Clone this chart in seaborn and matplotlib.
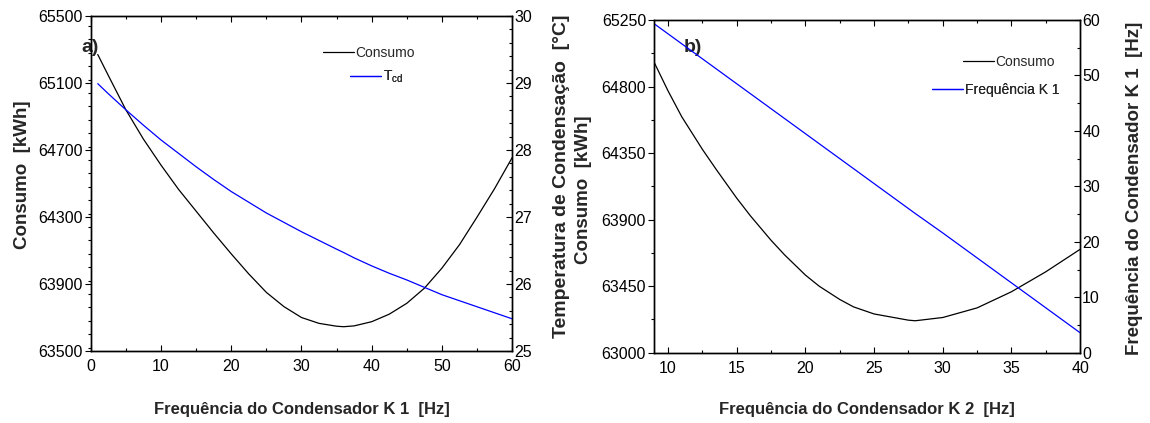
import matplotlib
matplotlib.use("Agg")
import matplotlib.pyplot as plt
from matplotlib.ticker import MultipleLocator
import numpy as np
import seaborn as sns

# panel a) : frequency of condenser K1
freq_k1 = [1, 2.5, 5, 7.5, 10, 12.5, 15, 17.5, 20, 22.5, 25, 27.5, 30,
           32.5, 35, 36, 37.5, 40, 42.5, 45, 47.5, 50, 52.5, 55, 57.5, 60]
consumo_a = [65270, 65145, 64940, 64765, 64610, 64465, 64335, 64205, 64080, 63960, 63850, 63765, 63700,
             63665, 63648, 63645, 63650, 63675, 63720, 63785, 63875, 63995, 64135, 64300, 64470, 64655]
tcd_a = [28.99, 28.84, 28.60, 28.37, 28.15, 27.95, 27.75, 27.56, 27.38, 27.22, 27.06, 26.92, 26.78,
         26.65, 26.52, 26.47, 26.39, 26.27, 26.16, 26.06, 25.95, 25.84, 25.75, 25.66, 25.57, 25.48]

# panel b) : frequency of condenser K2
freq_k2 = [9, 10, 11, 12.5, 13.5, 15, 16, 17.5, 18.5, 20, 21, 22.5, 23.5, 25,
           27.5, 28, 30, 32.5, 35, 37.5, 40]
consumo_b = [64961, 64770, 64595, 64375, 64240, 64045, 63925, 63760, 63660, 63525, 63450, 63360, 63310, 63262,
             63220, 63216, 63238, 63303, 63412, 63547, 63699]
freq_k1_b = [59.3, 57.5, 55.7, 53.0, 51.2, 48.5, 46.7, 44.0, 42.2, 39.5, 37.7, 35.0, 33.2, 30.5,
             26.0, 25.1, 21.6, 17.1, 12.6, 8.1, 3.6]

sns.set_style("ticks")
plt.rcParams["font.family"] = ["Liberation Sans", "DejaVu Sans"]

fig = plt.figure(figsize=(11.5, 4.23), dpi=100)
ax1 = fig.add_axes([0.0789, 0.1702, 0.3665, 0.792])
ax2 = fig.add_axes([0.569, 0.1662, 0.3702, 0.7865])

tick_fs = 11.5
lab_fs = 13.5


def style_axes(ax, twin):
    for a in (ax, twin):
        for sp in a.spines.values():
            sp.set_linewidth(1.0)
            sp.set_color("black")
        a.tick_params(which="both", labelsize=tick_fs, colors="black", pad=1.5)
        a.tick_params(which="major", length=4.5, width=0.8)
        a.tick_params(which="minor", length=2.5, width=0.8)
    ax.tick_params(axis="x", which="both", direction="in", top=True, pad=6)
    ax.tick_params(axis="y", which="both", direction="out")
    twin.tick_params(axis="y", which="both", direction="in")


def legend_entry(ax, line, label, x, y):
    leg = ax.legend([line], [label], loc="center left", bbox_to_anchor=(x, y), frameon=False,
                    fontsize=10, handlelength=2.25, handletextpad=0.1,
                    borderpad=0, borderaxespad=0)
    ax.add_artist(leg)


# ---- panel a ----
sns.lineplot(x=freq_k1, y=consumo_a, ax=ax1, color="black", lw=0.9, legend=False)
tw1 = ax1.twinx()
sns.lineplot(x=freq_k1, y=tcd_a, ax=tw1, color="blue", lw=0.9, legend=False)
ax1.set_xlim(0, 60)
ax1.set_ylim(63500, 65500)
tw1.set_ylim(25, 30)
ax1.set_yticks(np.arange(63500, 65501, 400))
ax1.xaxis.set_major_locator(MultipleLocator(10))
ax1.xaxis.set_minor_locator(MultipleLocator(5))
ax1.yaxis.set_minor_locator(MultipleLocator(80))
tw1.yaxis.set_major_locator(MultipleLocator(1))
tw1.yaxis.set_minor_locator(MultipleLocator(0.2))
style_axes(ax1, tw1)
ax1.set_xlabel("Frequência do Condensador K 1  [Hz]", fontsize=12, fontweight="bold")
ax1.xaxis.set_label_coords(0.5, -0.176)
ax1.xaxis.label.set_va("center")
ax1.set_ylabel("Consumo  [kWh]", fontsize=lab_fs, fontweight="bold")
ax1.yaxis.set_label_coords(-0.163, 0.525)
ax1.yaxis.label.set_va("center")
tw1.set_ylabel("Temperatura de Condensação  [°C]", fontsize=14, fontweight="bold", rotation=90)
tw1.yaxis.set_label_coords(1.118, 0.522)
tw1.yaxis.label.set_va("center")
ax1.text(-0.022, 0.905, "a)", transform=ax1.transAxes, fontsize=14, fontweight="bold", va="center")
legend_entry(tw1, ax1.get_lines()[0], "Consumo", 0.551, 0.89)
legend_entry(tw1, tw1.get_lines()[0], "T$_{\\mathregular{cd}}$", 0.615, 0.818)

# ---- panel b ----
sns.lineplot(x=freq_k2, y=consumo_b, ax=ax2, color="black", lw=0.9, legend=False)
tw2 = ax2.twinx()
sns.lineplot(x=freq_k2, y=freq_k1_b, ax=tw2, color="blue", lw=0.9, legend=False)
ax2.set_xlim(9, 40)
ax2.set_ylim(63000, 65250)
tw2.set_ylim(0, 60)
ax2.set_yticks(np.arange(63000, 65251, 450))
ax2.xaxis.set_major_locator(MultipleLocator(5))
ax2.xaxis.set_minor_locator(MultipleLocator(2.5))
ax2.yaxis.set_minor_locator(MultipleLocator(225))
tw2.yaxis.set_major_locator(MultipleLocator(10))
tw2.yaxis.set_minor_locator(MultipleLocator(5))
style_axes(ax2, tw2)
ax2.set_xlabel("Frequência do Condensador K 2  [Hz]", fontsize=12, fontweight="bold")
ax2.xaxis.set_label_coords(0.5, -0.172)
ax2.xaxis.label.set_va("center")
ax2.set_ylabel("Consumo  [kWh]", fontsize=lab_fs, fontweight="bold")
ax2.yaxis.set_label_coords(-0.1675, 0.49)
ax2.yaxis.label.set_va("center")
tw2.set_ylabel("Frequência do Condensador K 1  [Hz]", fontsize=lab_fs, fontweight="bold", rotation=90)
tw2.yaxis.set_label_coords(1.129, 0.495)
tw2.yaxis.label.set_va("center")
ax2.text(0.068, 0.916, "b)", transform=ax2.transAxes, fontsize=14, fontweight="bold", va="center")
legend_entry(tw2, ax2.get_lines()[0], "Consumo", 0.725, 0.874)
legend_entry(tw2, tw2.get_lines()[0], "Frequência K 1", 0.652, 0.79)

fig.savefig("out.png", dpi=100)
